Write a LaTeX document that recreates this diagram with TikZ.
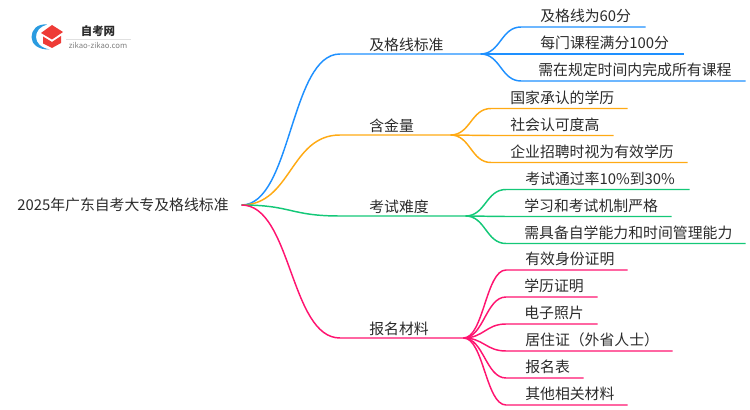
\documentclass[tikz,border=0pt]{standalone}
\usepackage{fontspec}
\setmainfont{Noto Sans CJK SC}
\usepackage{xcolor}
\definecolor{inkgrey}{HTML}{2B2B2B}
\definecolor{blueline}{HTML}{1E90FF}
\definecolor{goldline}{HTML}{FFAA14}
\definecolor{greenline}{HTML}{14C878}
\definecolor{pinkline}{HTML}{FF1470}
\definecolor{hatred}{HTML}{EE3B36}
\definecolor{logoblue}{HTML}{2A9BE0}

\tikzset{
  mapnode/.style={anchor=south west, inner sep=0pt, text=inkgrey, font=\fontsize{11.15pt}{13pt}\selectfont,
    align=left, text height=10pt, text depth=3.7pt, text width=#1*0.75pt},
  midnode/.style={mapnode=#1, text depth=2.6pt},
  rootnode/.style={anchor=west, inner sep=0pt, text=inkgrey, font=\fontsize{11.15pt}{13pt}\selectfont,
    align=left, text height=10pt, text depth=1.6pt, text width=#1*0.75pt},
  limb/.style={to path={.. controls +(50,0) and +(-50,0) .. ([xshift=-#1*0.75pt]\tikztotarget.south west) -- (\tikztotarget.south east)}},
  twig/.style={to path={.. controls +(20,0) and +(-20,0) .. ([xshift=-#1*0.75pt]\tikztotarget.south west) -- (\tikztotarget.south east)}},
  EdgeBlue/.style={draw=blueline, line width=1.1pt},
  EdgeGold/.style={draw=goldline, line width=1.1pt},
  EdgeGreen/.style={draw=greenline, line width=1.1pt},
  EdgePink/.style={draw=pinkline, line width=1.1pt}
}

\begin{document}
\begin{tikzpicture}[x=0.75pt, y=-0.75pt]
\useasboundingbox (0,0) rectangle (750,410);

\node[rootnode=224] (root) at (17,205) {2025年广东自考大专及格线标准};

\node[midnode=111] (pass) at (369,54) {及格线标准};
\node[midnode=81] (gold) at (369,135) {含金量};
\node[midnode=96] (hard) at (369,216) {考试难度};
\node[midnode=94] (docs) at (369,338) {报名材料};

\node[mapnode=105] (pass1) at (540,27) {及格线为60分};
\node[mapnode=143] (pass2) at (540,54) {每门课程满分100分};
\node[mapnode=207] (pass3) at (538,81) {需在规定时间内完成所有课程};

\node[mapnode=117] (gold1) at (510,108.5) {国家承认的学历};
\node[mapnode=103] (gold2) at (510,135.5) {社会认可度高};
\node[mapnode=177] (gold3) at (510,162.5) {企业招聘时视为有效学历};

\node[mapnode=164] (hard1) at (525,189.5) {考试通过率10\%到30\%};
\node[mapnode=147] (hard2) at (524,216.5) {学习和考试机制严格};
\node[mapnode=221] (hard3) at (524,243.5) {需具备自学能力和时间管理能力};

\node[mapnode=102] (docs1) at (525,270) {有效身份证明};
\node[mapnode=73] (docs2) at (524,297) {学历证明};
\node[mapnode=73] (docs3) at (524,324) {电子照片};
\node[mapnode=147] (docs4) at (525,351) {居住证（外省人士）};
\node[mapnode=58] (docs5) at (525,378) {报名表};
\node[mapnode=102] (docs6) at (525,405) {其他相关材料};

\draw[EdgeBlue] (root.east) to[limb=29] (pass);
\draw[EdgeGold] (root.east) to[limb=29] (gold);
\draw[EdgeGreen] (root.east) to[limb=29] (hard);
\draw[EdgePink] (root.east) to[limb=29] (docs);

\draw[EdgeBlue] (pass.south east) to[twig=19] (pass1);
\draw[EdgeBlue] (pass.south east) to[twig=19] (pass2);
\draw[EdgeBlue] (pass.south east) to[twig=17] (pass3);

\draw[EdgeGold] (gold.south east) to[twig=19] (gold1);
\draw[EdgeGold] (gold.south east) to[twig=19] (gold2);
\draw[EdgeGold] (gold.south east) to[twig=19] (gold3);

\draw[EdgeGreen] (hard.south east) to[twig=19] (hard1);
\draw[EdgeGreen] (hard.south east) to[twig=18] (hard2);
\draw[EdgeGreen] (hard.south east) to[twig=18] (hard3);

\draw[EdgePink] (docs.south east) to[twig=19] (docs1);
\draw[EdgePink] (docs.south east) to[twig=18] (docs2);
\draw[EdgePink] (docs.south east) to[twig=18] (docs3);
\draw[EdgePink] (docs.south east) to[twig=19] (docs4);
\draw[EdgePink] (docs.south east) to[twig=19] (docs5);
\draw[EdgePink] (docs.south east) to[twig=19] (docs6);

% logo
\fill[logoblue] (47,24.5) .. controls (37,23.5) and (31.5,30) .. (31.5,37) .. controls (31.5,44) and (38,50) .. (50,49.5)
  .. controls (41,48) and (36,43) .. (36,37) .. controls (36,31) and (40,26.5) .. (47,24.5) -- cycle;
\fill[hatred] (52,25) -- (63,32) -- (52,39.5) -- (41,33) -- cycle;
\fill[hatred] (43,36.5) -- (52,42) -- (61,36) -- (61,43) -- (52,48) -- (43,43.5) -- cycle;
\node[inner sep=0pt, text=inkgrey, font=\bfseries\fontsize{8.6pt}{10pt}\selectfont] (logotext) at (98,31) {自考网};
\node[inner sep=0pt, text=gray, font=\fontsize{5.8pt}{7pt}\selectfont] (logourl) at (98,45) {zikao-zikao.com};
\draw[black!12, line width=0.5pt] (66,39) -- (131,39);
\end{tikzpicture}
\end{document}
